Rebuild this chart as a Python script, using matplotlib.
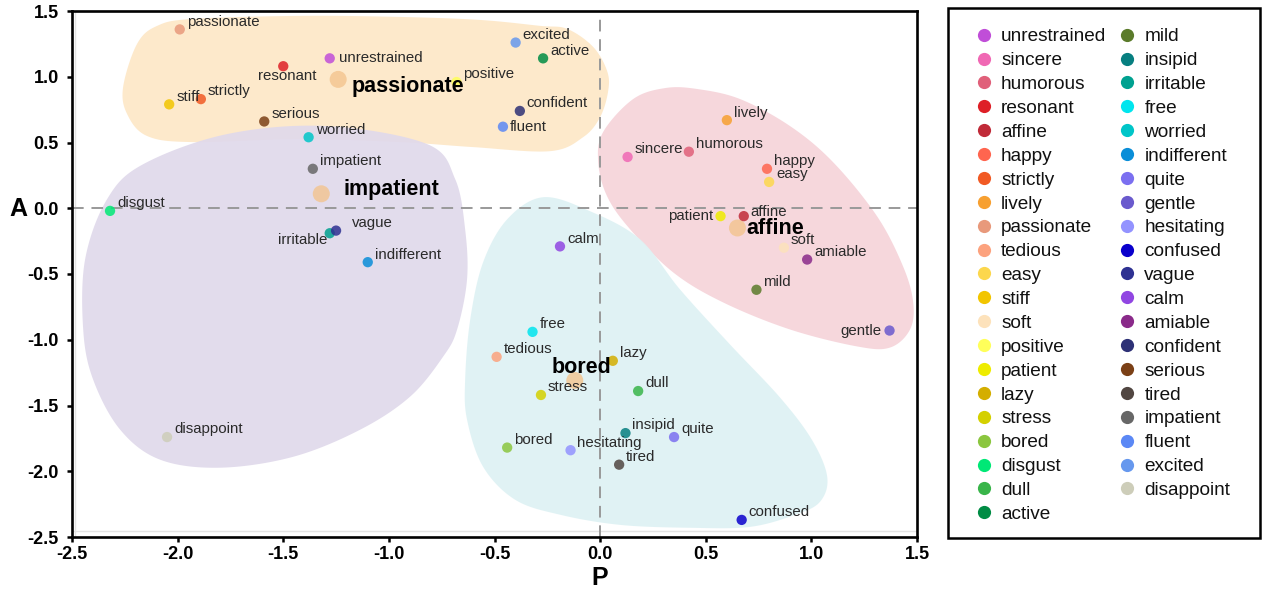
import numpy as np
import matplotlib
matplotlib.use('Agg')
import matplotlib.pyplot as plt
from matplotlib.lines import Line2D
from matplotlib.patches import Polygon, Rectangle

plt.rcParams['font.family'] = ['Liberation Sans', 'DejaVu Sans']

# ---------------- data ----------------
words = ['unrestrained', 'sincere', 'humorous', 'resonant', 'affine', 'happy', 'strictly',
         'lively', 'passionate', 'tedious', 'easy', 'stiff', 'soft', 'positive', 'patient',
         'lazy', 'stress', 'bored', 'disgust', 'dull', 'active',
         'mild', 'insipid', 'irritable', 'free', 'worried', 'indifferent', 'quite', 'gentle',
         'hesitating', 'confused', 'vague', 'calm', 'amiable', 'confident', 'serious', 'tired',
         'impatient', 'fluent', 'excited', 'disappoint']
P_vals = [-1.28, 0.13, 0.42, -1.50, 0.68, 0.79, -1.89,
          0.60, -1.99, -0.49, 0.80, -2.04, 0.87, -0.68, 0.57,
          0.06, -0.28, -0.44, -2.32, 0.18, -0.27,
          0.74, 0.12, -1.28, -0.32, -1.38, -1.10, 0.35, 1.37,
          -0.14, 0.67, -1.25, -0.19, 0.98, -0.38, -1.59, 0.09,
          -1.36, -0.46, -0.40, -2.05]
A_vals = [1.14, 0.39, 0.43, 1.08, -0.06, 0.30, 0.83,
          0.67, 1.36, -1.13, 0.20, 0.79, -0.30, 0.96, -0.06,
          -1.16, -1.42, -1.82, -0.02, -1.39, 1.14,
          -0.62, -1.71, -0.19, -0.94, 0.54, -0.41, -1.74, -0.93,
          -1.84, -2.37, -0.17, -0.29, -0.39, 0.74, 0.66, -1.95,
          0.30, 0.62, 1.26, -1.74]
word_colors = ['#c04ed8', '#f068b4', '#e0607a', '#de2027', '#c02a38', '#ff654f', '#f15a24',
               '#f7a031', '#e8997b', '#fca27e', '#fcd74d', '#f2c500', '#fde2bb', '#ffff5a', '#eeec00',
               '#d4ae00', '#d4d000', '#8bc63f', '#00e876', '#39b54a', '#008c44',
               '#5b7b2b', '#077f80', '#00a190', '#00e5ee', '#00c5c8', '#0a8ed8', '#7b6ff0', '#6a5acd',
               '#9393ff', '#0a00cc', '#2e3192', '#9146e2', '#8a2a8a', '#2e3176', '#7b4016', '#514641',
               '#676767', '#5b88f5', '#6698ee', '#cdcdb9']

cluster_names = ['passionate', 'impatient', 'affine', 'bored']
cluster_P = [-1.24, -1.32, 0.65, -0.12]
cluster_A = [0.98, 0.11, -0.15, -1.31]

# region outlines, one per cluster
region_passionate_P = [-2.192, -2.097, -1.927, -1.420, -0.947, -0.568, -0.284, -0.156, -0.033, 0.033,
                       0.038, 0.000, -0.080, -0.237, -0.601, -0.947, -1.420, -1.927, -2.144, -2.239, -2.258]
region_passionate_A = [1.250, 1.387, 1.440, 1.463, 1.455, 1.432, 1.387, 1.364, 1.227, 1.044,
                       0.891, 0.693, 0.541, 0.434, 0.465, 0.503, 0.526, 0.503, 0.549, 0.716, 0.922]
region_impatient_P = [-1.292, -0.819, -0.686, -0.639, -0.630, -0.677, -0.743, -0.899, -1.136, -1.453,
                      -1.799, -2.083, -2.272, -2.400, -2.447, -2.438, -2.334, -2.163, -1.766]
region_impatient_A = [0.625, 0.488, 0.221, -0.160, -0.541, -0.922, -1.128, -1.432, -1.684, -1.890,
                      -1.973, -1.912, -1.684, -1.303, -0.922, -0.389, 0.069, 0.335, 0.564]
region_affine_P = [0.459, 0.663, 0.899, 1.103, 1.311, 1.434, 1.482, 1.467, 1.373, 1.217,
                   0.899, 0.582, 0.346, 0.142, 0.033, -0.009, 0.014, 0.156, 0.308]
region_affine_A = [0.907, 0.830, 0.625, 0.350, -0.061, -0.442, -0.716, -0.922, -1.059, -1.051,
                   -0.922, -0.716, -0.488, -0.160, 0.091, 0.350, 0.579, 0.830, 0.914]
region_bored_P = [-0.270, -0.047, 0.189, 0.378, 0.615, 0.852, 1.003, 1.075, 1.041, 0.923, 0.710,
                  0.426, 0.095, -0.189, -0.402, -0.554, -0.630, -0.639, -0.615, -0.554, -0.440]
region_bored_A = [0.084, -0.023, -0.236, -0.617, -1.036, -1.440, -1.762, -2.042, -2.232, -2.331, -2.423,
                  -2.430, -2.408, -2.331, -2.217, -1.966, -1.608, -1.303, -0.846, -0.411, -0.084]

x_ticks = [-2.5, -2.0, -1.5, -1.0, -0.5, 0.0, 0.5, 1.0, 1.5]
y_ticks = [-2.5, -2.0, -1.5, -1.0, -0.5, 0.0, 0.5, 1.0, 1.5]

# ---------------- styling / layout ----------------
region_colors = {'passionate': '#fde8c9', 'impatient': '#e0d9eb',
                 'affine': '#f6d5db', 'bored': '#dff2f4'}
label_style = {  # (dx pt, dy pt, ha)
    'resonant': (3, -7, 'center'),
    'irritable': (-2, -5, 'right'),
    'patient': (-5, 0, 'right'),
    'gentle': (-6, 0, 'right'),
    'fluent': (5, 0, 'left'),
    'unrestrained': (6.5, 0.5, 'left'),
    'vague': (11.5, 5.5, 'left'),
    'affine': (5, 3, 'left'),
}
default_style = (5, 5.5, 'left')
cluster_label_style = {'passionate': (9.4, -5), 'impatient': (16, 3),
                       'affine': (6.5, -0.5), 'bored': (-17, 9.4)}


def smooth_closed(xs, ys, n=24):
    pts = np.column_stack([xs, ys])
    N = len(pts)
    t = np.linspace(0, 1, n, endpoint=False)[:, None]
    out = []
    for i in range(N):
        p0, p1, p2, p3 = pts[(i - 1) % N], pts[i], pts[(i + 1) % N], pts[(i + 2) % N]
        seg = 0.5 * ((2 * p1) + (-p0 + p2) * t + (2 * p0 - 5 * p1 + 4 * p2 - p3) * t ** 2
                     + (-p0 + 3 * p1 - 3 * p2 + p3) * t ** 3)
        out.append(seg)
    return np.vstack(out)


W, H = 1262, 590
fig = plt.figure(figsize=(W / 100, H / 100), dpi=100)
ax = fig.add_axes([72 / W, 1 - 537 / H, 845 / W, 526 / H])

regions = [('passionate', region_passionate_P, region_passionate_A),
           ('affine', region_affine_P, region_affine_A),
           ('bored', region_bored_P, region_bored_A),
           ('impatient', region_impatient_P, region_impatient_A)]
for name, rx, ry in regions:
    poly = Polygon(smooth_closed(rx, ry), closed=True, facecolor=region_colors[name],
                   edgecolor='none', alpha=0.95 if name != 'impatient' else 0.92, zorder=1)
    ax.add_patch(poly)

# faint inner frame
ax.axhline(-2.455, color='#e4e4e4', lw=1.0, zorder=1.5)
ax.axvline(-2.485, color='#e4e4e4', lw=1.0, zorder=1.5)

ax.axhline(0, color='#999999', lw=1.4, ls=(0, (6, 4)), zorder=2)
ax.axvline(0, color='#999999', lw=1.4, ls=(0, (6, 4)), zorder=2)

ax.scatter(cluster_P, cluster_A, s=150, color='#f3c48e', alpha=0.8, edgecolors='none', zorder=3)
ax.scatter(P_vals, A_vals, s=55, c=word_colors, alpha=0.85, edgecolors='none', zorder=4)

for w, px, py in zip(words, P_vals, A_vals):
    dx, dy, ha = label_style.get(w, default_style)
    ax.annotate(w, (px, py), xytext=(dx, dy), textcoords='offset points', ha=ha, va='center',
                fontsize=10.8, color='#2a2a2a', zorder=5)

for w, px, py in zip(cluster_names, cluster_P, cluster_A):
    dx, dy = cluster_label_style[w]
    ax.annotate(w, (px, py), xytext=(dx, dy), textcoords='offset points', ha='left', va='center',
                fontsize=15.5, fontweight='bold', color='black', zorder=6)

ax.set_xlim(-2.5, 1.5)
ax.set_ylim(-2.5, 1.5)
ax.set_xticks(x_ticks)
ax.set_yticks(y_ticks)
ax.set_xticklabels([f'{v:.1f}' for v in x_ticks])
ax.set_yticklabels([f'{v:.1f}' for v in y_ticks])
for lab in ax.get_xticklabels() + ax.get_yticklabels():
    lab.set_fontweight('bold')
    lab.set_fontsize(13)
ax.tick_params(axis='x', direction='out', length=3.6, width=1.8, pad=3)
ax.tick_params(axis='y', direction='out', length=3.6, width=1.8, pad=6)
for sp in ax.spines.values():
    sp.set_linewidth(1.9)
    sp.set_color('black')

ax.set_xlabel('P', fontsize=18, fontweight='bold', va='center')
ax.set_ylabel('A', fontsize=18, fontweight='bold', rotation=0, va='center', ha='center')
ax.xaxis.set_label_coords(0.625, -0.078)
ax.yaxis.set_label_coords(-0.064, (537 - 209) / 526)

# legend
handles = [Line2D([], [], marker='o', ls='', color=c, markersize=9.5, markeredgewidth=0)
           for c in word_colors]
leg = fig.legend(handles, words, loc='upper left', bbox_to_anchor=(974 / W, 1 - 28 / H),
                 ncol=2, frameon=False, fontsize=13.7, handlelength=1.0, handletextpad=0.42,
                 labelspacing=0.345, columnspacing=0.58, borderpad=0, borderaxespad=0)
for t in leg.get_texts():
    t.set_color('#111111')
fig.patches.append(Rectangle((948 / W, 1 - 538 / H), 312 / W, 530 / H, transform=fig.transFigure,
                             facecolor='none', edgecolor='black', lw=1.8))

fig.savefig('out.png', dpi=100)
